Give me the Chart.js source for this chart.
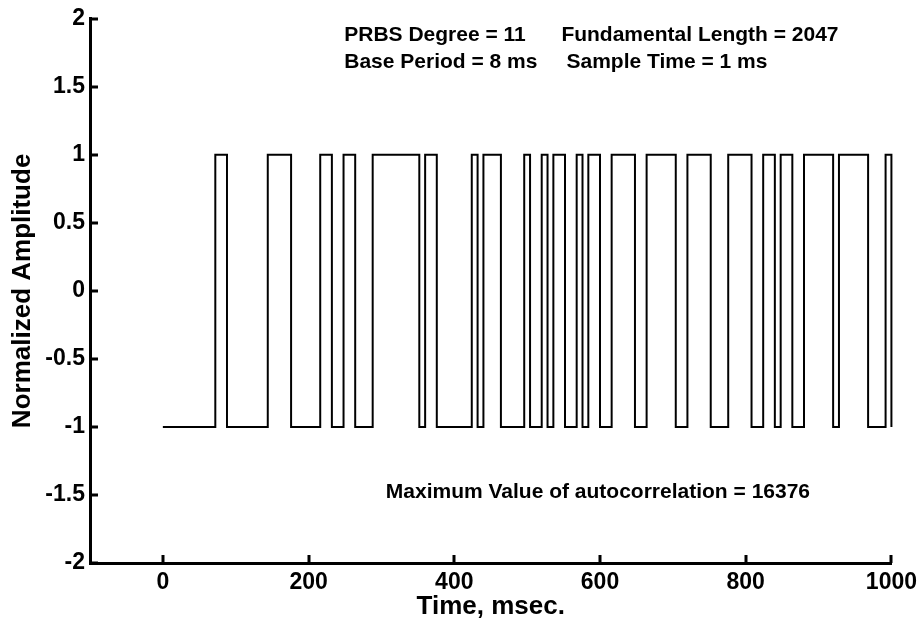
<!DOCTYPE html>
<html>
<head>
<meta charset="utf-8">
<script src="https://cdn.jsdelivr.net/npm/chart.js@4.4.1/dist/chart.umd.min.js"></script>
<style>
    html, body { margin: 0; padding: 0; background: #fff; }
    #wrap { width: 923px; height: 626px; }
</style>
</head>
<body>
<div id="wrap"><canvas id="prbs-chart" width="923" height="626"></canvas></div>
<script>
// PRBS switching instants (ms) and the level held from each instant on
const switchTimes = [0, 72, 88, 144, 176, 216, 232, 248, 264, 288,
    352, 360, 376, 424, 432, 440, 464, 496, 504, 520,
    528, 536, 552, 568, 576, 584, 600, 616, 648, 664,
    704, 720, 752, 776, 808, 824, 840, 848, 864, 880,
    920, 928, 968, 992, 1000];
const levels = [-1, 1, -1, 1, -1, 1, -1, 1, -1, 1,
    -1, 1, -1, 1, -1, 1, -1, 1, -1, 1,
    -1, 1, -1, 1, -1, 1, -1, 1, -1, 1,
    -1, 1, -1, 1, -1, 1, -1, 1, -1, 1,
    -1, 1, -1, 1, -1];

const xTicks = [0, 200, 400, 600, 800, 1000];
const yTicks = [-2, -1.5, -1, -0.5, 0, 0.5, 1, 1.5, 2];

const headerLines = [
    ['PRBS Degree = 11', 'Fundamental Length = 2047'],
    ['Base Period = 8 ms', 'Sample Time = 1 ms']
];
const footerText = 'Maximum Value of autocorrelation = 16376';

// square wave: vertical edge at every switch instant
const points = [{ x: switchTimes[0], y: levels[0] }];
for (let i = 1; i < switchTimes.length; i++) {
    points.push({ x: switchTimes[i], y: levels[i - 1] });
    points.push({ x: switchTimes[i], y: levels[i] });
}

const FONT = '"Liberation Sans", Arial, Helvetica, sans-serif';

// MATLAB style inward tick marks
const inwardTicks = {
    id: 'inwardTicks',
    afterDraw(chart) {
        const { ctx, chartArea, scales } = chart;
        ctx.save();
        ctx.strokeStyle = '#000';
        ctx.lineWidth = 3;
        ctx.beginPath();
        xTicks.forEach(v => {
            const px = Math.round(scales.x.getPixelForValue(v));
            ctx.moveTo(px, chartArea.bottom);
            ctx.lineTo(px, chartArea.bottom - 8);
        });
        yTicks.forEach(v => {
            const py = Math.round(scales.y.getPixelForValue(v));
            ctx.moveTo(chartArea.left, py);
            ctx.lineTo(chartArea.left + 8, py);
        });
        ctx.stroke();
        ctx.restore();
    }
};

// text notes placed in data coordinates
const notes = {
    id: 'notes',
    afterDraw(chart) {
        const { ctx, scales } = chart;
        ctx.save();
        ctx.fillStyle = '#000';
        ctx.font = 'bold 21px ' + FONT;
        ctx.textAlign = 'left';
        ctx.textBaseline = 'middle';
        const colX = [249, 547];
        const rowY = [1.876, 1.68];
        headerLines.forEach((row, r) => {
            row.forEach((txt, c) => {
                const x = scales.x.getPixelForValue(colX[c] + (r === 1 && c === 1 ? 7 : 0));
                ctx.fillText(txt, x, scales.y.getPixelForValue(rowY[r]));
            });
        });
        ctx.fillText(footerText, scales.x.getPixelForValue(306), scales.y.getPixelForValue(-1.483));
        ctx.restore();
    }
};

const ctx = document.getElementById('prbs-chart').getContext('2d');
const prbsChart = new Chart(ctx, {
    type: 'line',
    data: {
        datasets: [{
            label: 'PRBS',
            data: points,
            borderColor: '#000',
            borderWidth: 2,
            pointRadius: 0,
            fill: false,
            tension: 0,
            clip: 4
        }]
    },
    options: {
        responsive: false,
        animation: false,
        devicePixelRatio: 1,
        layout: { padding: { top: 14, right: 29, left: 0, bottom: 0 } },
        plugins: {
            legend: { display: false },
            tooltip: { enabled: false }
        },
        scales: {
            x: {
                type: 'linear',
                position: 'bottom',
                min: -100,
                max: 1000,
                afterBuildTicks: scale => { scale.ticks = xTicks.map(v => ({ value: v })); },
                afterFit: scale => { scale.height = 63; },
                grid: { display: false, drawTicks: false },
                border: { display: true, color: '#000', width: 3 },
                ticks: {
                    autoSkip: false,
                    maxRotation: 0,
                    padding: 6,
                    color: '#000',
                    font: { family: FONT, size: 23, weight: 'bold' },
                    callback: v => String(v)
                },
                title: {
                    display: true,
                    text: 'Time, msec.',
                    color: '#000',
                    font: { family: FONT, size: 26, weight: 'bold' },
                    padding: { top: 0, bottom: 4 }
                }
            },
            y: {
                min: -2,
                max: 2,
                afterBuildTicks: scale => { scale.ticks = yTicks.map(v => ({ value: v })); },
                afterFit: scale => { scale.width = 90; },
                grid: { display: false, drawTicks: false },
                border: { display: true, color: '#000', width: 3 },
                ticks: {
                    autoSkip: false,
                    padding: 5,
                    color: '#000',
                    font: { family: FONT, size: 23, weight: 'bold' },
                    callback: v => String(v)
                },
                title: {
                    display: true,
                    text: 'Normalized Amplitude',
                    color: '#000',
                    font: { family: FONT, size: 26, weight: 'bold' },
                    padding: { top: 7, bottom: 0 }
                }
            }
        }
    },
    plugins: [inwardTicks, notes]
});
</script>
</body>
</html>
